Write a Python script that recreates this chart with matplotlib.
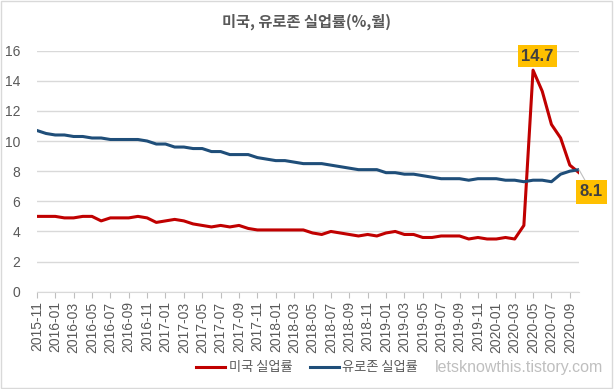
import matplotlib.pyplot as plt
import pandas as pd
from matplotlib.lines import Line2D
from matplotlib.patches import Rectangle

plt.rcParams['font.family'] = ['Liberation Sans Narrow', 'Liberation Sans', 'Noto Sans CJK KR']

# monthly, 2015-11 .. 2020-10
months = pd.period_range('2015-11', '2020-10', freq='M').strftime('%Y-%m').tolist()

us_rate = [5.0, 5.0, 5.0, 4.9, 4.9, 5.0, 5.0, 4.7, 4.9, 4.9,
           4.9, 5.0, 4.9, 4.6, 4.7, 4.8, 4.7, 4.5, 4.4, 4.3,
           4.4, 4.3, 4.4, 4.2, 4.1, 4.1, 4.1, 4.1, 4.1, 4.1,
           3.9, 3.8, 4.0, 3.9, 3.8, 3.7, 3.8, 3.7, 3.9, 4.0,
           3.8, 3.8, 3.6, 3.6, 3.7, 3.7, 3.7, 3.5, 3.6, 3.5,
           3.5, 3.6, 3.5, 4.4, 14.7, 13.3, 11.1, 10.2, 8.4, 7.9]

euro_rate = [10.7, 10.5, 10.4, 10.4, 10.3, 10.3, 10.2, 10.2, 10.1, 10.1,
             10.1, 10.1, 10.0, 9.8, 9.8, 9.6, 9.6, 9.5, 9.5, 9.3,
             9.3, 9.1, 9.1, 9.1, 8.9, 8.8, 8.7, 8.7, 8.6, 8.5,
             8.5, 8.5, 8.4, 8.3, 8.2, 8.1, 8.1, 8.1, 7.9, 7.9,
             7.8, 7.8, 7.7, 7.6, 7.5, 7.5, 7.5, 7.4, 7.5, 7.5,
             7.5, 7.4, 7.4, 7.3, 7.4, 7.4, 7.3, 7.8, 8.0, 8.1]

kr = ['Noto Sans CJK KR', 'DejaVu Sans']
grey = '#595959'

fig = plt.figure(figsize=(6.14, 3.89), dpi=100)
ax = fig.add_axes([0.060, 0.250, 0.883, 0.620])

x = list(range(len(months)))
ax.plot(x, us_rate, color='#C00000', lw=2.2, label='미국 실업률', zorder=3)
ax.plot(x, euro_rate, color='#1F4E79', lw=2.2, label='유로존 실업률', zorder=3)

ax.set_xlim(0, len(months) - 1)
ax.set_ylim(0, 16)
ax.set_yticks(range(0, 17, 2))
ax.set_xticks(x[::2])
ax.set_xticklabels(months[::2], rotation=90)
ax.tick_params(axis='y', length=0, labelsize=10, labelcolor=grey, pad=12)
ax.tick_params(axis='x', length=4, color='#BFBFBF', labelsize=10, labelcolor=grey, pad=3)
ax.grid(axis='y', color='#D9D9D9', lw=1)
ax.set_axisbelow(True)
for s in ['top', 'right', 'left']:
    ax.spines[s].set_visible(False)
ax.spines['bottom'].set_color('#D9D9D9')

fig.text(0.5, 0.945, '미국, 유로존 실업률(%,월)', ha='center', va='center',
         fontsize=11, fontweight='bold', color=grey, family=kr)

# data labels
peak = us_rate.index(max(us_rate))
ax.annotate(f'{us_rate[peak]}', xy=(peak, us_rate[peak]), xytext=(3, 10),
            textcoords='offset points', ha='center', va='center',
            fontsize=12, fontweight='bold', color='#404040',
            bbox=dict(boxstyle='square,pad=0.2', fc='#FFC000', ec='none'))
ax.annotate(f'{euro_rate[-1]}', xy=(x[-1], euro_rate[-1]), xytext=(9, -16),
            textcoords='offset points', ha='center', va='center',
            fontsize=12, fontweight='bold', color='#404040',
            bbox=dict(boxstyle='square,pad=0.25', fc='#FFC000', ec='none'),
            arrowprops=dict(arrowstyle='-', color='#BFBFBF', lw=0.8, shrinkA=0, shrinkB=0),
            annotation_clip=False)

leg = fig.legend(loc='center', bbox_to_anchor=(0.500, 0.054), ncol=2, frameon=False,
                 prop={'family': kr, 'size': 9.5}, handlelength=2.2, columnspacing=1.3,
                 handletextpad=0.25)
for t in leg.get_texts():
    t.set_color(grey)

fig.text(0.982, 0.054, 'letsknowthis.tistory.com', ha='right', va='center',
         fontsize=11.5, color='#BFBFBF')

fig.patches.append(Rectangle((0.002, 0.003), 0.995, 0.994, transform=fig.transFigure,
                             fill=False, ec='#D9D9D9', lw=1))

fig.savefig('out.png', dpi=100)
